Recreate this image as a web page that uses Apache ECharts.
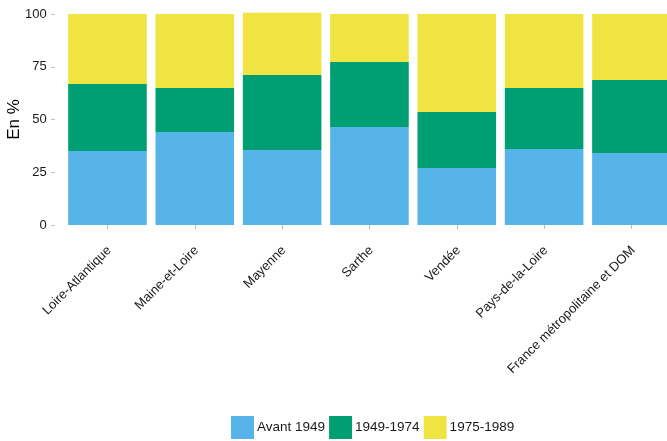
<!DOCTYPE html>
<html><head><meta charset="utf-8">
<script src="https://cdn.jsdelivr.net/npm/echarts@6/dist/echarts.min.js"></script>
<style>html,body{margin:0;padding:0;background:#fff}#c{width:667px;height:441px}</style>
</head><body><div id="c"></div>
<script>
const categories = ["Loire-Atlantique","Maine-et-Loire","Mayenne","Sarthe","Vendée","Pays-de-la-Loire","France métropolitaine et DOM"];
const avant1949 = [35.1, 44.1, 35.5, 46.4, 27.0, 36.0, 34.1];
const p1949_1974 = [31.7, 20.8, 35.6, 30.9, 26.6, 28.9, 34.6];
const p1975_1989 = [33.2, 35.1, 29.5, 22.7, 46.4, 35.1, 31.3];
const yTicks = [0, 25, 50, 75, 100];
const seriesNames = ["Avant 1949", "1949-1974", "1975-1989"];
const colors = ["#56B4E9", "#009E73", "#F0E442"];
const font = "Liberation Sans, Arial, sans-serif";

const chart = echarts.init(document.getElementById('c'), null, {renderer:'canvas'});
const mk = (name, data, i) => ({
  name, type:'bar', stack:'total', data, clip:false,
  barCategoryGap:'10%', itemStyle:{color:colors[i]}, emphasis:{disabled:true}
});
chart.setOption({
  animation:false,
  textStyle:{fontFamily:font},
  grid:{left:63.8, top:14, width:611.3, height:211, containLabel:false, outerBoundsMode:'none'},
  legend:{
    data:seriesNames, left:231, top:416, padding:0, itemWidth:23, itemHeight:23, itemGap:4,
    icon:'rect', textStyle:{fontFamily:font, fontSize:13.5, color:'#1a1a1a', padding:[0,0,0,-2]}
  },
  xAxis:{
    type:'category', data:categories, offset:10,
    axisLine:{show:false},
    axisTick:{show:true, alignWithLabel:true, length:4, lineStyle:{color:'#bbb'}},
    axisLabel:{rotate:45, fontSize:13, color:'#1a1a1a', margin:6, interval:0, fontFamily:font,
      align:'right', verticalAlign:'top', padding:[0,4,0,0]}
  },
  yAxis:{
    type:'value', min:yTicks[0], max:yTicks[yTicks.length-1], interval:25, offset:9,
    name:'En %', nameLocation:'middle', nameGap:32, nameMoveOverlap:false,
    nameTextStyle:{fontSize:17, color:'#000', fontFamily:font},
    axisLine:{show:false},
    axisTick:{show:true, length:3.5, lineStyle:{color:'#bbb'}},
    splitLine:{show:false},
    axisLabel:{fontSize:13, color:'#1a1a1a', margin:8, fontFamily:font}
  },
  series:[mk(seriesNames[0], avant1949, 0), mk(seriesNames[1], p1949_1974, 1), mk(seriesNames[2], p1975_1989, 2)]
});
</script></body></html>
